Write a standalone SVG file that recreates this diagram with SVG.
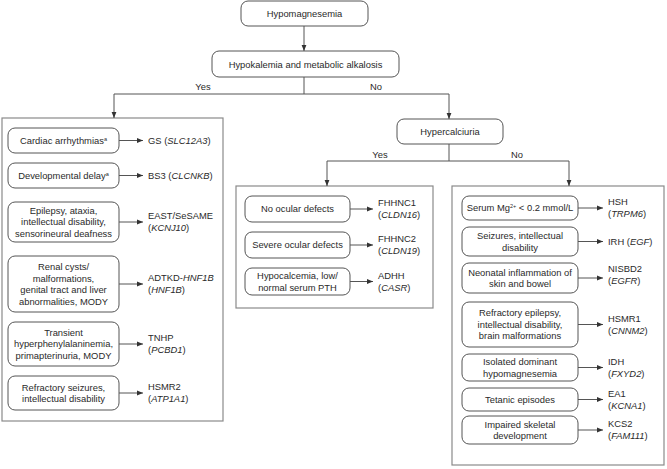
<svg xmlns="http://www.w3.org/2000/svg" width="667" height="469" viewBox="0 0 667 469">
<defs>
<marker id="ah" viewBox="0 0 10 10" refX="10" refY="5" markerWidth="6" markerHeight="6" markerUnits="userSpaceOnUse" orient="auto">
<path d="M0,1 L10,5 L0,9 z" fill="#333"/>
</marker>
<style>
text{font-family:"Liberation Sans",Arial,sans-serif;font-size:9.4px;fill:#2a2a2a}
.c{text-anchor:middle}
.i{font-style:italic}
.sup{font-size:5.5px}
.box{fill:#fff;stroke:#555;stroke-width:1}
.panel{fill:#fff;stroke:#8a8a8a;stroke-width:1.2}
.ln{fill:none;stroke:#555;stroke-width:1}
.ar{fill:none;stroke:#555;stroke-width:1;marker-end:url(#ah)}
</style>
</defs>
<rect width="667" height="469" fill="#fff"/>

<g id="panels">
<rect class="panel" x="2" y="118" width="221" height="303"/>
<rect class="panel" x="236" y="186" width="197" height="122"/>
<rect class="panel" x="452" y="186" width="212" height="279"/>
</g>

<g id="connectors">
<path class="ar" d="M304,26 V51"/>
<path class="ln" d="M304,77 V94 M114,94 H449"/>
<path class="ar" d="M114,94 V118"/>
<path class="ar" d="M449,94 V119"/>
<path class="ln" d="M449,144 V161 M327,161 H569"/>
<path class="ar" d="M327,161 V186"/>
<path class="ar" d="M569,161 V186"/>
<path class="ar" d="M119,140.5 H143"/>
<path class="ar" d="M119,175.5 H143"/>
<path class="ar" d="M119,222 H143"/>
<path class="ar" d="M119,284 H143"/>
<path class="ar" d="M119,344 H143"/>
<path class="ar" d="M119,393 H143"/>
<path class="ar" d="M350,209 H373"/>
<path class="ar" d="M350,245 H373"/>
<path class="ar" d="M350,281.5 H373"/>
<path class="ar" d="M578,208 H603"/>
<path class="ar" d="M578,241.5 H603"/>
<path class="ar" d="M578,278 H603"/>
<path class="ar" d="M578,324.5 H603"/>
<path class="ar" d="M578,367.5 H603"/>
<path class="ar" d="M578,399.5 H603"/>
<path class="ar" d="M578,430 H603"/>
</g>

<g id="edge-labels">
<text class="c" x="203" y="90">Yes</text>
<text class="c" x="376" y="90">No</text>
<text class="c" x="380" y="158">Yes</text>
<text class="c" x="517" y="158">No</text>
</g>

<g id="n-hypomagnesemia">
<rect class="box" x="241" y="1" width="127" height="25" rx="7"/>
<text class="c" x="304.5" y="17">Hypomagnesemia</text>
</g>
<g id="n-hypokalemia">
<rect class="box" x="212" y="51" width="187" height="26" rx="7"/>
<text class="c" x="305.5" y="67.5">Hypokalemia and metabolic alkalosis</text>
</g>
<g id="n-hypercalciuria">
<rect class="box" x="397" y="119" width="106" height="25" rx="7"/>
<text class="c" x="450" y="135">Hypercalciuria</text>
</g>

<!-- left panel -->
<g id="n-cardiac">
<rect class="box" x="8" y="128" width="111" height="25" rx="7"/>
<text class="c" x="63.5" y="144">Cardiac arrhythmias<tspan class="sup" dy="-3.5">a</tspan></text>
</g>
<g id="r-gs"><text x="148" y="144">GS (<tspan class="i">SLC12A3</tspan>)</text></g>

<g id="n-devdelay">
<rect class="box" x="8" y="163" width="111" height="25" rx="7"/>
<text class="c" x="63.5" y="179">Developmental delay<tspan class="sup" dy="-3.5">a</tspan></text>
</g>
<g id="r-bs3"><text x="148" y="179">BS3 (<tspan class="i">CLCNKB</tspan>)</text></g>

<g id="n-epilepsy">
<rect class="box" x="8" y="202" width="111" height="40" rx="7"/>
<text class="c" x="63.5" y="213.8">Epilepsy, ataxia,</text>
<text class="c" x="63.5" y="225.3">intellectual disability,</text>
<text class="c" x="63.5" y="236.8">sensorineural deafness</text>
</g>
<g id="r-east"><text x="148" y="219.3">EAST/SeSAME</text><text x="148" y="231.3">(<tspan class="i">KCNJ10</tspan>)</text></g>

<g id="n-renal">
<rect class="box" x="8" y="256" width="111" height="56" rx="7"/>
<text class="c" x="63.5" y="270">Renal cysts/</text>
<text class="c" x="63.5" y="281.5">malformations,</text>
<text class="c" x="63.5" y="293">genital tract and liver</text>
<text class="c" x="63.5" y="304.5">abnormalities, MODY</text>
</g>
<g id="r-adtkd"><text x="148" y="281.3">ADTKD-<tspan class="i">HNF1B</tspan></text><text x="148" y="293.3">(<tspan class="i">HNF1B</tspan>)</text></g>

<g id="n-transient">
<rect class="box" x="8" y="322" width="111" height="44" rx="7"/>
<text class="c" x="63.5" y="335.8">Transient</text>
<text class="c" x="63.5" y="347.3">hyperphenylalaninemia,</text>
<text class="c" x="63.5" y="358.8">primapterinuria, MODY</text>
</g>
<g id="r-tnhp"><text x="148" y="341.3">TNHP</text><text x="148" y="353.3">(<tspan class="i">PCBD1</tspan>)</text></g>

<g id="n-refseiz">
<rect class="box" x="8" y="376" width="111" height="34" rx="7"/>
<text class="c" x="63.5" y="390.5">Refractory seizures,</text>
<text class="c" x="63.5" y="402">intellectual disability</text>
</g>
<g id="r-hsmr2"><text x="148" y="390.3">HSMR2</text><text x="148" y="402.3">(<tspan class="i">ATP1A1</tspan>)</text></g>

<!-- middle panel -->
<g id="n-noocular">
<rect class="box" x="245" y="196" width="105" height="26" rx="7"/>
<text class="c" x="297.5" y="212.3">No ocular defects</text>
</g>
<g id="r-fhhnc1"><text x="378" y="206.3">FHHNC1</text><text x="378" y="218.3">(<tspan class="i">CLDN16</tspan>)</text></g>

<g id="n-severe">
<rect class="box" x="245" y="232" width="105" height="26" rx="7"/>
<text class="c" x="297.5" y="248.3">Severe ocular defects</text>
</g>
<g id="r-fhhnc2"><text x="378" y="242.3">FHHNC2</text><text x="378" y="254.3">(<tspan class="i">CLDN19</tspan>)</text></g>

<g id="n-hypocalcemia">
<rect class="box" x="245" y="268" width="105" height="27" rx="7"/>
<text class="c" x="297.5" y="279">Hypocalcemia, low/</text>
<text class="c" x="297.5" y="290.5">normal serum PTH</text>
</g>
<g id="r-adhh"><text x="378" y="278.8">ADHH</text><text x="378" y="290.8">(<tspan class="i">CASR</tspan>)</text></g>

<!-- right panel -->
<g id="n-serum">
<rect class="box" x="462" y="196" width="116" height="24" rx="7"/>
<text class="c" x="520" y="211.3">Serum Mg<tspan class="sup" dy="-3.5">2+</tspan><tspan dy="3.5"> &lt; 0.2 mmol/L</tspan></text>
</g>
<g id="r-hsh"><text x="608" y="205.3">HSH</text><text x="608" y="217.3">(<tspan class="i">TRPM6</tspan>)</text></g>

<g id="n-seizures">
<rect class="box" x="462" y="227" width="116" height="29" rx="7"/>
<text class="c" x="520" y="239">Seizures, intellectual</text>
<text class="c" x="520" y="250.5">disability</text>
</g>
<g id="r-irh"><text x="608" y="244.8">IRH (<tspan class="i">EGF</tspan>)</text></g>

<g id="n-neonatal">
<rect class="box" x="462" y="263" width="116" height="30" rx="7"/>
<text class="c" x="520" y="275.5">Neonatal inflammation of</text>
<text class="c" x="520" y="287">skin and bowel</text>
</g>
<g id="r-nisbd2"><text x="608" y="272.3">NISBD2</text><text x="608" y="284.3">(<tspan class="i">EGFR</tspan>)</text></g>

<g id="n-refepi">
<rect class="box" x="462" y="302" width="116" height="45" rx="7"/>
<text class="c" x="520" y="316">Refractory epilepsy,</text>
<text class="c" x="520" y="327.5">intellectual disability,</text>
<text class="c" x="520" y="339">brain malformations</text>
</g>
<g id="r-hsmr1"><text x="608" y="321.8">HSMR1</text><text x="608" y="333.8">(<tspan class="i">CNNM2</tspan>)</text></g>

<g id="n-isolated">
<rect class="box" x="462" y="354" width="116" height="27" rx="7"/>
<text class="c" x="520" y="365">Isolated dominant</text>
<text class="c" x="520" y="376.5">hypomagnesemia</text>
</g>
<g id="r-idh"><text x="608" y="364.8">IDH</text><text x="608" y="376.8">(<tspan class="i">FXYD2</tspan>)</text></g>

<g id="n-tetanic">
<rect class="box" x="462" y="388" width="116" height="23" rx="7"/>
<text class="c" x="520" y="402.8">Tetanic episodes</text>
</g>
<g id="r-ea1"><text x="608" y="396.8">EA1</text><text x="608" y="408.8">(<tspan class="i">KCNA1</tspan>)</text></g>

<g id="n-impaired">
<rect class="box" x="462" y="416" width="116" height="28" rx="7"/>
<text class="c" x="520" y="427.5">Impaired skeletal</text>
<text class="c" x="520" y="439">development</text>
</g>
<g id="r-kcs2"><text x="608" y="427.3">KCS2</text><text x="608" y="439.3">(<tspan class="i">FAM111</tspan>)</text></g>
</svg>
